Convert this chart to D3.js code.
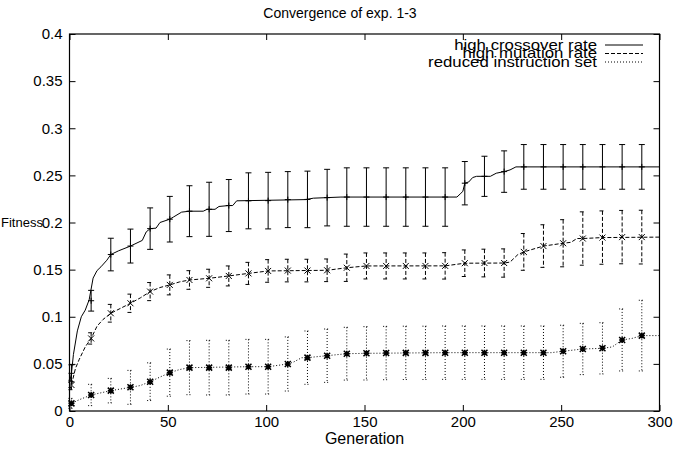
<!DOCTYPE html>
<html>
<head>
<meta charset="utf-8">
<script src="https://cdn.jsdelivr.net/npm/d3@7"></script>
<style>
  body { margin: 0; background: #fff; }
  svg { display: block; }
  text { font-family: "Liberation Sans", Arial, sans-serif; fill: #000; }
</style>
</head>
<body>
<div id="chart"></div>
<script>
// error bar positions (generation)
const barGens = [1, 11, 21, 31, 41, 51, 61, 71, 81, 91, 101, 111, 121, 131, 141,
    151, 161, 171, 181, 191, 201, 211, 221, 231, 241, 251, 261, 271, 281, 291];

const crossMean = [0.040, 0.117, 0.166, 0.175, 0.1935, 0.2035, 0.212, 0.214, 0.218, 0.223,
    0.2232, 0.2243, 0.2245, 0.2264, 0.227, 0.227, 0.227, 0.227, 0.227, 0.227,
    0.2417, 0.249, 0.254, 0.259, 0.259, 0.259, 0.259, 0.259, 0.259, 0.259];
const crossErr = [0.009, 0.011, 0.0173, 0.018, 0.022, 0.0242, 0.027, 0.0287, 0.0276, 0.0297,
    0.030, 0.0297, 0.030, 0.030, 0.031, 0.031, 0.031, 0.031, 0.031, 0.031,
    0.023, 0.0213, 0.022, 0.0237, 0.0237, 0.0237, 0.0237, 0.0237, 0.0237, 0.0237];

const mutMean = [0.0276, 0.077, 0.1037, 0.1143, 0.1267, 0.1338, 0.139, 0.1408, 0.1433, 0.146,
    0.1486, 0.149, 0.149, 0.1493, 0.152, 0.1539, 0.1539, 0.1539, 0.1539, 0.154,
    0.1568, 0.157, 0.157, 0.1688, 0.175, 0.178, 0.183, 0.184, 0.1845, 0.1845];
const mutErr = [0.005, 0.006, 0.0094, 0.0097, 0.0096, 0.0106, 0.0099, 0.0096, 0.0106, 0.0117,
    0.012, 0.012, 0.012, 0.012, 0.0145, 0.0138, 0.0138, 0.0138, 0.0138, 0.014,
    0.0141, 0.0147, 0.015, 0.0195, 0.0226, 0.025, 0.0283, 0.0283, 0.0283, 0.0285];

const redMean = [0.0081, 0.017, 0.0216, 0.0251, 0.0311, 0.0407, 0.046, 0.046, 0.046, 0.047,
    0.047, 0.0499, 0.0566, 0.0587, 0.0608, 0.0612, 0.0615, 0.0617, 0.0617, 0.0619,
    0.0619, 0.0619, 0.0619, 0.0619, 0.0619, 0.0634, 0.0658, 0.0665, 0.0754, 0.080];
const redErr = [0.0053, 0.0113, 0.013, 0.018, 0.020, 0.025, 0.0287, 0.029, 0.029, 0.029,
    0.029, 0.0287, 0.0283, 0.0283, 0.028, 0.0283, 0.0283, 0.0283, 0.0283, 0.0283,
    0.0283, 0.0283, 0.0283, 0.0283, 0.0283, 0.0276, 0.0272, 0.0272, 0.0329, 0.0375];

// per-generation curves [generation, fitness]
const crossCurve = [[0, 0.03], [1, 0.04], [2, 0.06], [4, 0.085], [6, 0.1], [8, 0.107], [10, 0.118],
    [12, 0.141], [14, 0.149], [16, 0.153], [19, 0.16], [21, 0.166], [25, 0.17], [31, 0.175],
    [37, 0.181], [39, 0.19], [41, 0.1935], [44, 0.194], [46, 0.2], [51, 0.2035], [53, 0.206],
    [57, 0.211], [61, 0.212], [68, 0.212], [70, 0.214], [74, 0.214], [76, 0.217], [81, 0.218],
    [83, 0.218], [85, 0.223], [120, 0.2243], [124, 0.2258], [131, 0.2264], [138, 0.227],
    [197, 0.227], [199, 0.231], [200, 0.233], [201, 0.2417], [203, 0.243], [205, 0.2477],
    [207, 0.249], [214, 0.249], [217, 0.2523], [221, 0.254], [224, 0.2558], [227, 0.259], [300, 0.259]];

const mutCurve = [[0, 0.022], [1, 0.0276], [3, 0.045], [5, 0.055], [8, 0.068], [11, 0.077],
    [14, 0.09], [17, 0.097], [21, 0.1037], [26, 0.109], [31, 0.1143], [36, 0.12], [41, 0.1267],
    [46, 0.131], [51, 0.1338], [56, 0.137], [61, 0.139], [71, 0.1408], [81, 0.1433], [91, 0.146],
    [101, 0.1486], [131, 0.1493], [141, 0.152], [151, 0.1539], [191, 0.154], [201, 0.1568],
    [221, 0.157], [224, 0.158], [228, 0.166], [231, 0.1688], [241, 0.175], [251, 0.178],
    [255, 0.179], [258, 0.183], [261, 0.183], [271, 0.184], [300, 0.1845]];

const redCurve = [[0, 0.007], [1, 0.0081], [5, 0.012], [11, 0.017], [21, 0.0216], [31, 0.0251],
    [36, 0.027], [41, 0.0311], [46, 0.036], [51, 0.0407], [56, 0.044], [61, 0.046], [91, 0.047],
    [101, 0.047], [111, 0.0499], [114, 0.052], [118, 0.0565], [121, 0.0566], [131, 0.0587],
    [141, 0.0608], [151, 0.0612], [191, 0.0619], [245, 0.0619], [251, 0.0634], [261, 0.0658],
    [271, 0.0665], [276, 0.068], [281, 0.0754], [286, 0.077], [291, 0.08], [300, 0.08]];

const xTicks = [0, 50, 100, 150, 200, 250, 300];
const yTicks = [0, 0.05, 0.1, 0.15, 0.2, 0.25, 0.3, 0.35, 0.4];

const seriesNames = ['high crossover rate', 'high mutation rate', 'reduced instruction set'];

const W = 674, H = 453;
const m = {left: 69.5, right: 14.5, top: 34, bottom: 42};

const svg = d3.select('#chart').append('svg')
    .attr('width', W)
    .attr('height', H);

const x = d3.scaleLinear().domain([0, 300]).range([m.left, W - m.right]);
const y = d3.scaleLinear().domain([0, 0.4]).range([H - m.bottom, m.top]);

const series = [
    {name: seriesNames[0], mean: crossMean, err: crossErr, curve: crossCurve, dash: null, mark: 'plus'},
    {name: seriesNames[1], mean: mutMean, err: mutErr, curve: mutCurve, dash: '4,2', mark: 'cross'},
    {name: seriesNames[2], mean: redMean, err: redErr, curve: redCurve, dash: '1,2', mark: 'star'}
];

// axes, ticks inward on all four sides
const fmt = d => String(d);
svg.append('g').attr('transform', `translate(0,${y(0)})`)
    .call(d3.axisBottom(x).tickValues(xTicks).tickFormat(fmt).tickSizeInner(-6).tickSizeOuter(0).tickPadding(5))
    .call(g => g.select('.domain').remove());
svg.append('g').attr('transform', `translate(0,${y(0.4)})`)
    .call(d3.axisTop(x).tickValues(xTicks).tickFormat('').tickSizeInner(-6).tickSizeOuter(0))
    .call(g => g.select('.domain').remove());
svg.append('g').attr('transform', `translate(${x(0)},0)`)
    .call(d3.axisLeft(y).tickValues(yTicks).tickFormat(fmt).tickSizeInner(-6).tickSizeOuter(0).tickPadding(7))
    .call(g => g.select('.domain').remove());
svg.append('g').attr('transform', `translate(${x(300)},0)`)
    .call(d3.axisRight(y).tickValues(yTicks).tickFormat('').tickSizeInner(-6).tickSizeOuter(0))
    .call(g => g.select('.domain').remove());

svg.selectAll('.tick line').attr('stroke', '#000');
svg.selectAll('.tick text').attr('font-size', 15).attr('font-family', '"Liberation Sans", Arial, sans-serif');

svg.append('rect')
    .attr('x', x(0)).attr('y', y(0.4))
    .attr('width', x(300) - x(0)).attr('height', y(0) - y(0.4))
    .attr('fill', 'none').attr('stroke', '#000').attr('stroke-width', 1.2);

svg.append('text').attr('x', W / 2 + 3).attr('y', 18)
    .attr('text-anchor', 'middle').attr('font-size', 14).text('Convergence of exp. 1-3');
svg.append('text').attr('x', (x(0) + x(300)) / 2).attr('y', 444)
    .attr('text-anchor', 'middle').attr('font-size', 16).text('Generation');
svg.append('text').attr('x', 1).attr('y', 227)
    .attr('font-size', 13).text('Fitness');

const line = d3.line().x(d => x(d[0])).y(d => y(d[1]));

function markPath(type, s) {
    const p = `M${-s},0H${s}M0,${-s}V${s}`;
    const c = `M${-s},${-s}L${s},${s}M${-s},${s}L${s},${-s}`;
    if (type === 'plus') return p;
    if (type === 'cross') return c;
    return p + c;
}

const plot = svg.append('g');

series.forEach(sr => {
    const g = plot.append('g');
    g.append('path')
        .attr('d', line(sr.curve))
        .attr('fill', 'none')
        .attr('stroke', '#000')
        .attr('stroke-width', 1)
        .attr('stroke-dasharray', sr.dash);

    const bars = g.selectAll('g.bar')
        .data(barGens.map((gen, i) => ({gen, v: sr.mean[i], e: sr.err[i]})))
        .enter().append('g')
        .attr('transform', d => `translate(${x(d.gen)},0)`);

    bars.append('path')
        .attr('d', d => `M0,${y(d.v + d.e)}V${y(d.v - d.e)}M-3,${y(d.v + d.e)}H3M-3,${y(d.v - d.e)}H3`)
        .attr('fill', 'none')
        .attr('stroke', '#000')
        .attr('stroke-width', 1)
        .attr('stroke-dasharray', sr.dash);

    bars.append('path')
        .attr('transform', d => `translate(0,${y(d.v)})`)
        .attr('d', markPath(sr.mark, 3))
        .attr('fill', 'none')
        .attr('stroke', '#000')
        .attr('stroke-width', sr.mark === 'star' ? 1.5 : 1);
});

// legend (text is drawn wide and tightly stacked, as in the original)
const legend = svg.append('g');
series.forEach((sr, i) => {
    const yy = 45 + i * 8.5;
    legend.append('text')
        .attr('transform', `translate(597,${yy + 4.5}) scale(1.2,1)`)
        .attr('text-anchor', 'end')
        .attr('font-size', 14)
        .text(sr.name);
    legend.append('line')
        .attr('x1', 605).attr('x2', 643)
        .attr('y1', yy).attr('y2', yy)
        .attr('stroke', '#000')
        .attr('stroke-width', 1)
        .attr('stroke-dasharray', sr.dash);
});
</script>
</body>
</html>
